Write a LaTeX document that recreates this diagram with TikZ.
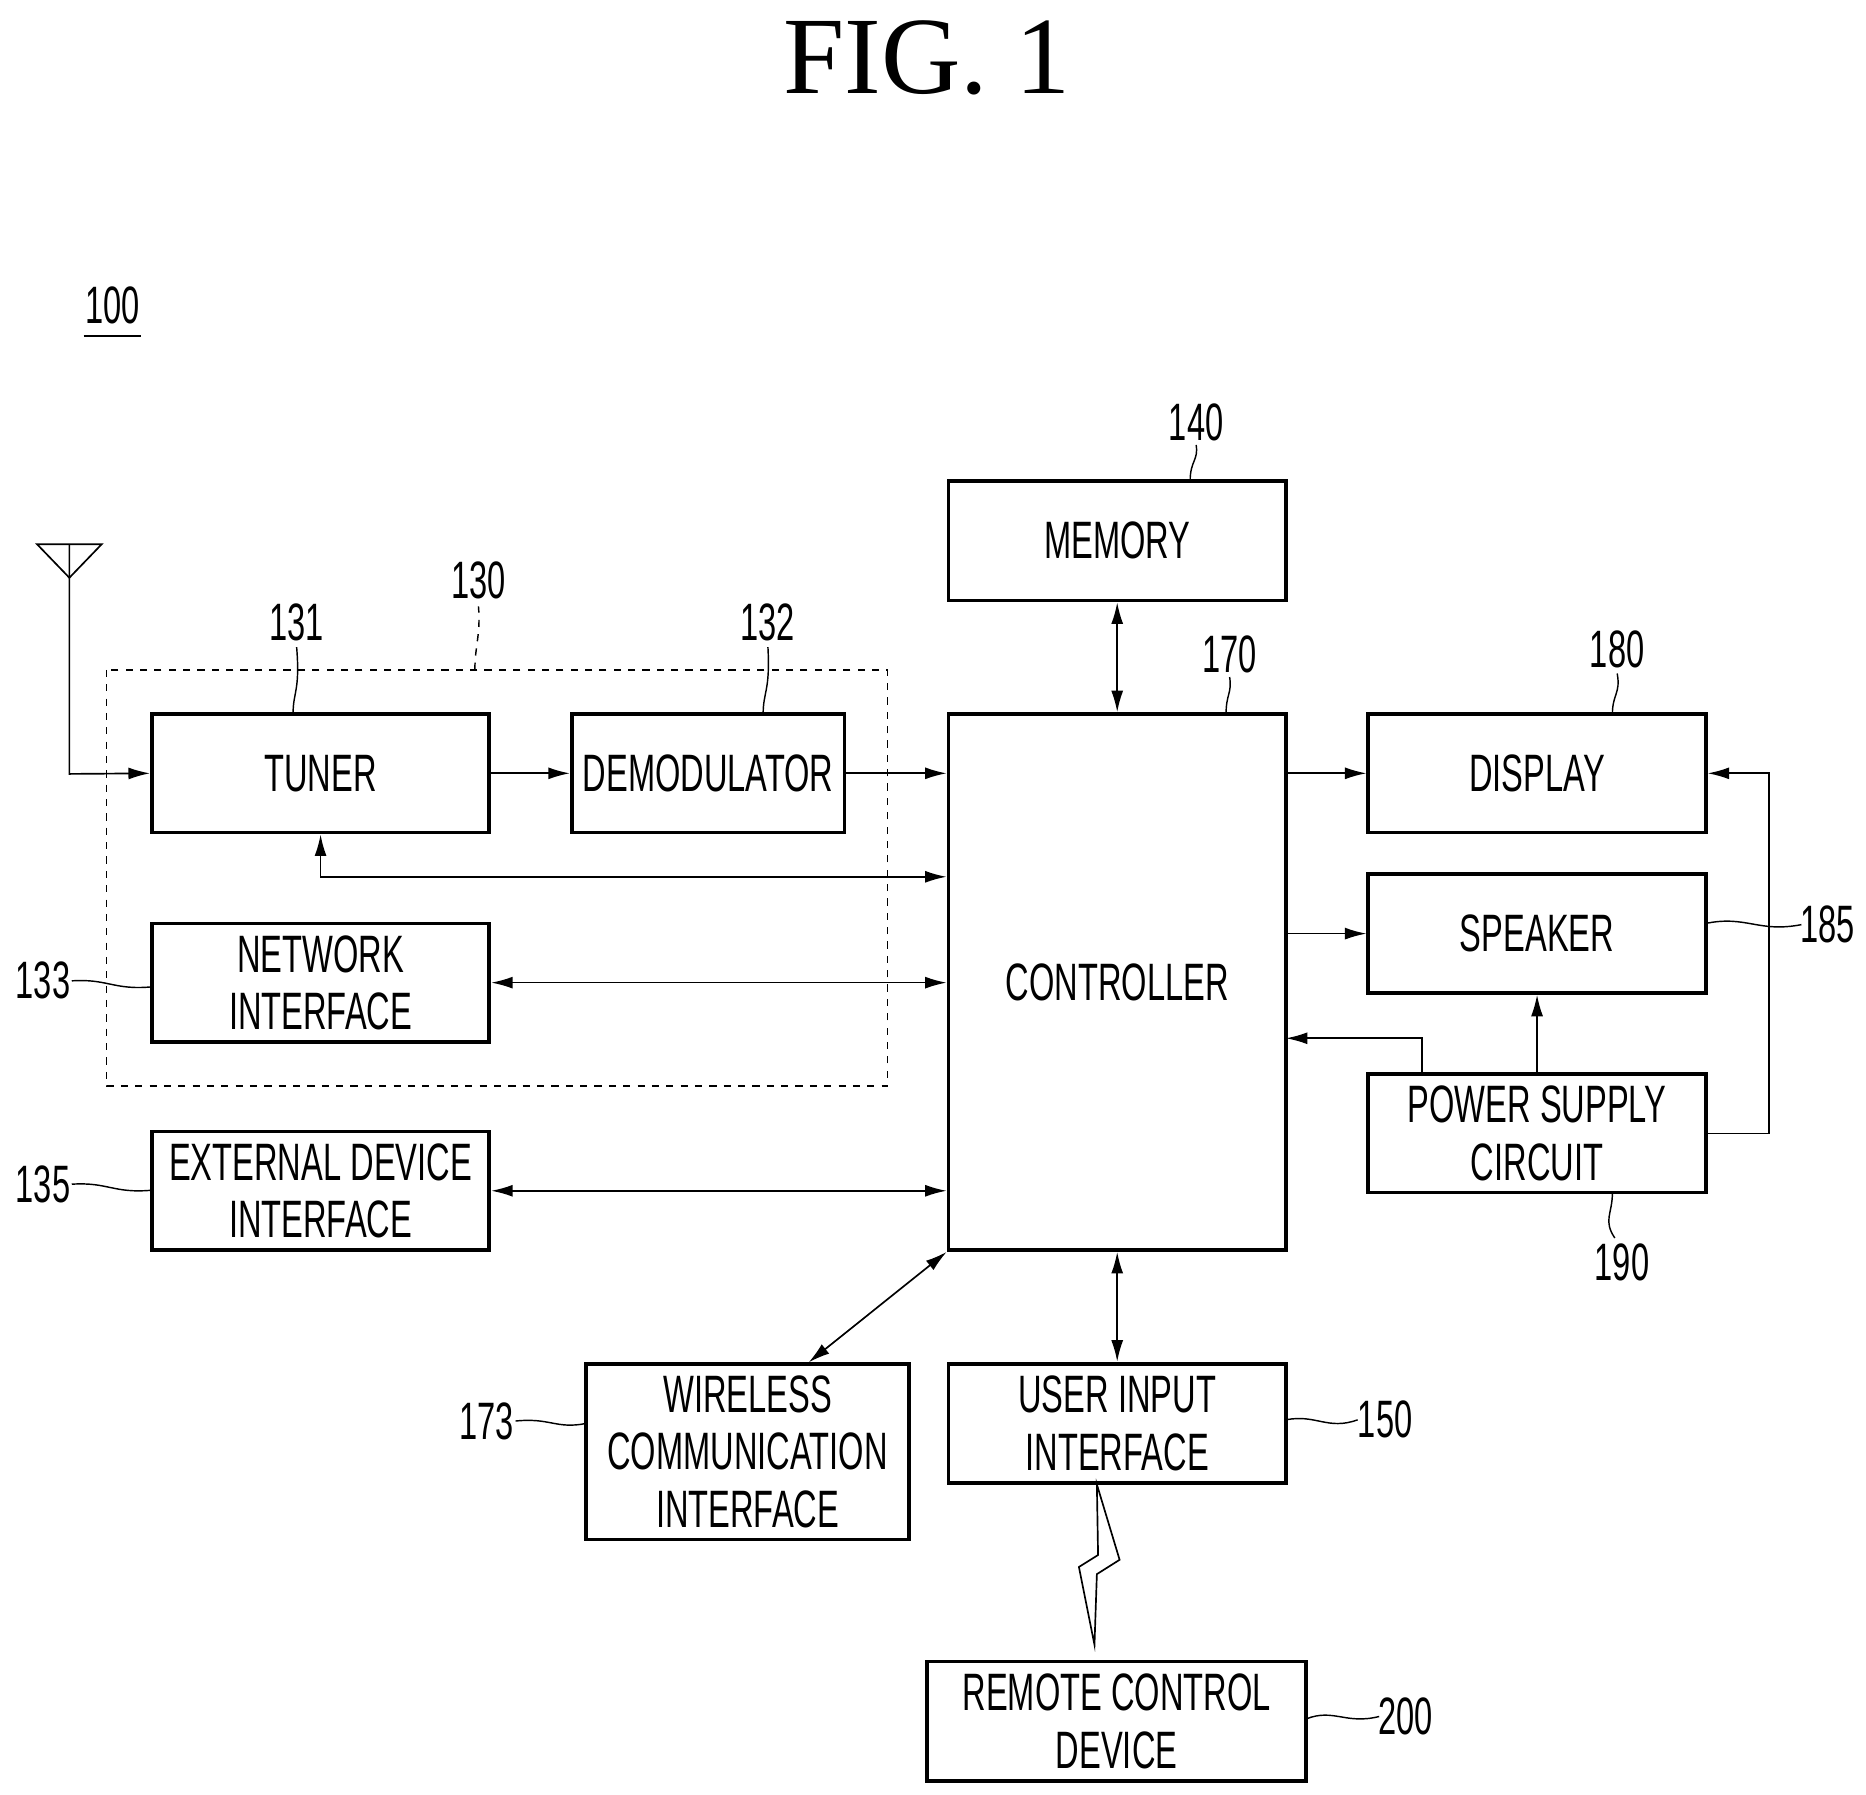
\documentclass[tikz,border=0pt]{standalone}
\usepackage{fontspec}
\usetikzlibrary{arrows.meta}
\setmainfont{Liberation Sans}[FakeStretch=0.62]
\newfontfamily\titlefont{Liberation Serif}
\begin{document}
\begin{tikzpicture}[x=0.5pt,y=-0.5pt,
  box/.style={draw,line width=1.6pt,inner sep=0pt,font=\fontsize{22}{24}\selectfont,align=center},
  lbl/.style={font=\fontsize{22}{24}\selectfont,inner sep=1pt},
  arr/.style={-{Latex[length=9pt,width=5pt]},line width=0.7pt},
  darr/.style={{Latex[length=9pt,width=5pt]}-{Latex[length=9pt,width=5pt]},line width=0.7pt},
  lead/.style={line width=0.6pt}]
\useasboundingbox (0,0) rectangle (1560,1500);
\node[font=\titlefont\fontsize{46}{50}\selectfont] (title) at (775,48) {FIG. 1};
\node[lbl] (l100) at (94,255) {100};
\draw[line width=0.8pt] (70,281) -- (118,281);
% boxes
\node[box,minimum width=141pt,minimum height=50pt] (mem) at (934,452) {MEMORY};
\node[box,minimum width=141pt,minimum height=224pt] (ctl) at (934,821) {CONTROLLER};
\node[box,minimum width=141pt,minimum height=49.5pt] (tun) at (268,646.5) {TUNER};
\node[box,minimum width=114pt,minimum height=49.5pt] (dem) at (592,646.5) {DEMODULATOR};
\node[box,minimum width=141pt,minimum height=49.5pt] (net) at (268,821.5) {NETWORK\\INTERFACE};
\node[box,minimum width=141pt,minimum height=49.5pt] (ext) at (268,995.5) {EXTERNAL DEVICE\\INTERFACE};
\node[box,minimum width=141pt,minimum height=49.5pt] (dis) at (1285,646.5) {DISPLAY};
\node[box,minimum width=141pt,minimum height=49.5pt] (spk) at (1285,780.5) {SPEAKER};
\node[box,minimum width=141pt,minimum height=49.5pt] (pow) at (1285,947.5) {POWER SUPPLY\\CIRCUIT};
\node[box,minimum width=135pt,minimum height=73.5pt] (wir) at (625,1213.5) {WIRELESS\\COMMUNICATION\\INTERFACE};
\node[box,minimum width=141pt,minimum height=50pt] (usr) at (934,1190) {USER INPUT\\INTERFACE};
\node[box,minimum width=158.5pt,minimum height=50pt] (rem) at (933.5,1439) {REMOTE CONTROL\\DEVICE};
\draw[dashed,line width=0.7pt] (89,560) rectangle (742,908);
% antenna
\coordinate (ant) at (58,455);
\draw[line width=0.7pt] (31,455) -- (85,455) -- (58,483) -- cycle;
\draw[arr] (ant) -- (58,647) -- (tun.west);
% connectors
\draw[arr] (tun.east) -- (dem.west);
\draw[arr] (dem.east) -- (dem.east -| ctl.west);
\draw[darr] (tun.south) -- (268,733) -- (268,733 -| ctl.west);
\draw[darr] (net.east) -- (net.east -| ctl.west);
\draw[darr] (ext.east) -- (ext.east -| ctl.west);
\draw[darr] (mem.south) -- (ctl.north);
\draw[darr] (ctl.south) -- (usr.north);
\draw[darr] (ctl.south west) -- (676,1139);
\draw[arr] (dis.west -| ctl.east) -- (dis.west);
\draw[arr] (spk.west -| ctl.east) -- (spk.west);
\draw[arr] (1189,898) -- (1189,868) -- (1075,868);
\draw[arr] (pow.north) -- (spk.south);
\draw[arr] (pow.east) -- (1479,947.5) -- (1479,646.5) -- (dis.east);
% lightning
\draw[line width=0.7pt] (917,1241) -- (936,1304) -- (917,1316) -- (915,1375) -- (902,1310) -- (918,1300) -- cycle;
% labels
\node[lbl] (l140) at (1000,353) {140};
\draw[lead] (995,402) .. controls (995,385) and (1002,385) .. (1000,372);
\node[lbl] (l170) at (1028,547) {170};
\draw[lead] (1025,597) .. controls (1025,580) and (1030,580) .. (1028,566);
\node[lbl] (l130) at (400,485) {130};
\draw[lead,dashed] (397,560) .. controls (397,540) and (402,530) .. (400,507);
\node[lbl] (l131) at (248,520) {131};
\draw[lead] (245,597) .. controls (245,578) and (251,578) .. (248,541);
\node[lbl] (l132) at (642,520) {132};
\draw[lead] (638,597) .. controls (638,578) and (644,578) .. (642,541);
\node[lbl] (l133) at (36,820) {133};
\draw[lead] (60,820) .. controls (90,818) and (95,828) .. (127,825);
\node[lbl] (l135) at (36,990) {135};
\draw[lead] (60,990) .. controls (90,988) and (95,998) .. (127,995);
\node[lbl] (l180) at (1352,543) {180};
\draw[lead] (1348,597) .. controls (1348,580) and (1355,580) .. (1352,563);
\node[lbl] (l185) at (1528,773) {185};
\draw[lead] (1426,772) .. controls (1460,765) and (1470,780) .. (1506,773);
\node[lbl] (l190) at (1356,1055) {190};
\draw[lead] (1348,997) .. controls (1348,1015) and (1340,1020) .. (1350,1035);
\node[lbl] (l173) at (407,1188) {173};
\draw[lead] (431,1188) .. controls (460,1185) and (465,1195) .. (490,1190);
\node[lbl] (l150) at (1158,1187) {150};
\draw[lead] (1075,1187) .. controls (1100,1182) and (1110,1196) .. (1135,1187);
\node[lbl] (l200) at (1175,1435) {200};
\draw[lead] (1092,1437) .. controls (1115,1428) and (1125,1442) .. (1153,1435);
\end{tikzpicture}
\end{document}
